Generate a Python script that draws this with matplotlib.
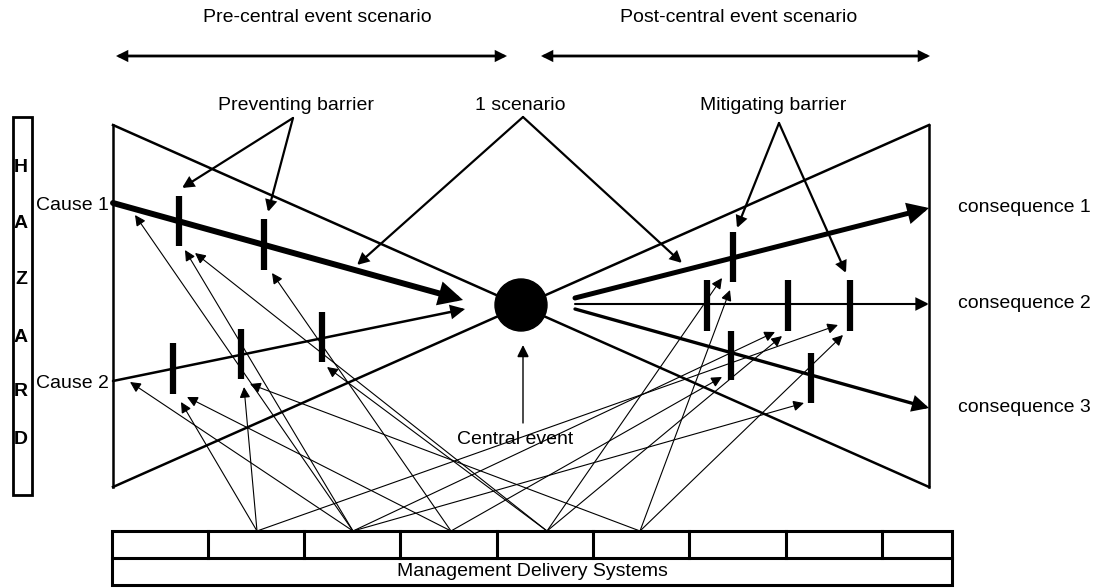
import matplotlib
matplotlib.use('Agg')

import matplotlib.pyplot as plt
from matplotlib.patches import FancyArrowPatch, Circle, Rectangle

plt.rcParams['font.family'] = ['Liberation Sans', 'DejaVu Sans']

# diagram nodes (pixel coordinates, y down)
hazard_letters = ['H', 'A', 'Z', 'A', 'R', 'D']
hazard_y = [167, 223, 280, 337, 392, 440]

cause_labels = ['Cause 1', 'Cause 2']
cause_start = [(113, 203), (113, 381)]
cause_end = [(463, 300), (465, 309)]
cause_lw = [4.3, 1.8]

cons_labels = ['consequence 1', 'consequence 2', 'consequence 3']
cons_start = [(575, 298), (575, 304), (575, 309)]
cons_end = [(929, 208), (929, 304), (929, 408)]
cons_lw = [3.6, 1.5, 2.4]

# barriers: x, top, bottom
prevent_barriers = [(179, 196, 246), (264, 219, 270), (173, 343, 394),
                    (241, 329, 379), (322, 312, 362)]
mitigate_barriers = [(733, 232, 282), (707, 280, 331), (788, 280, 331),
                     (850, 280, 331), (731, 331, 380), (811, 353, 403)]

# management system cells
mds_x = [112, 208, 304, 400, 497, 593, 689, 786, 882, 952]
mds_label = 'Management Delivery Systems'

# links from management systems to barriers (source index, tip)
source_x = [257, 353, 451, 547, 640]
links = [
    (0, (181, 402)), (0, (244, 387)), (0, (838, 325)),
    (1, (135, 215)), (1, (185, 250)), (1, (130, 382)), (1, (775, 332)), (1, (804, 403)),
    (2, (272, 273)), (2, (187, 397)), (2, (722, 377)),
    (3, (195, 253)), (3, (327, 367)), (3, (722, 278)), (3, (782, 336)),
    (4, (250, 384)), (4, (730, 290)), (4, (843, 335)),
]

callouts = [
    ('Preventing barrier', (296, 105), (293, 118), [(182, 188), (268, 212)]),
    ('1 scenario', (520, 105), (523, 117), [(357, 265), (682, 263)]),
    ('Mitigating barrier', (773, 105), (779, 123), [(737, 228), (846, 273)]),
]

fig = plt.figure(figsize=(11.04, 5.88), dpi=100)
ax = fig.add_axes([0, 0, 1, 1])
ax.set_xlim(0, 1104)
ax.set_ylim(588, 0)
ax.axis('off')


def arrow(p0, p1, lw=0.8, ms=16, style='-|>'):
    a = FancyArrowPatch(p0, p1, arrowstyle=style, mutation_scale=ms, lw=lw,
                        color='black', shrinkA=0, shrinkB=0, joinstyle='miter')
    ax.add_patch(a)


# top scenario arrows
ax.text(317, 18, 'Pre-central event scenario', ha='center', va='center', fontsize=14)
ax.text(739, 18, 'Post-central event scenario', ha='center', va='center', fontsize=14)
arrow((116, 56), (507, 56), lw=2, ms=14, style='<|-|>')
arrow((541, 56), (930, 56), lw=2, ms=14, style='<|-|>')

# hazard box
ax.add_patch(Rectangle((12.5, 117), 19.5, 378, fill=False, lw=2))
for letter, y in zip(hazard_letters, hazard_y):
    ax.text(21, y, letter, ha='center', va='center', fontsize=14, fontweight='bold')

# bow tie outline
ax.plot([113, 929], [125, 487], color='black', lw=1.8)
ax.plot([113, 929], [487, 125], color='black', lw=1.8)
ax.plot([113, 113], [125, 487], color='black', lw=1.8)
ax.plot([929, 929], [125, 487], color='black', lw=1.8)
ax.add_patch(Circle((521, 305), 26, color='black', zorder=3))

# cause and consequence scenarios
for lab, p0, p1, w in zip(cause_labels, cause_start, cause_end, cause_lw):
    arrow(p0, p1, lw=w, ms=14 + 3 * w)
    ax.text(109, p0[1] + 2, lab, ha='right', va='center', fontsize=14)
for lab, p0, p1, w in zip(cons_labels, cons_start, cons_end, cons_lw):
    arrow(p0, p1, lw=w, ms=14 + 3 * w)
    ax.text(958, p1[1], lab, ha='left', va='center', fontsize=14)

# barriers
for x, y0, y1 in prevent_barriers + mitigate_barriers:
    ax.plot([x, x], [y0, y1], color='black', lw=4.5, solid_capstyle='butt')

# callouts
for lab, txy, apex, tips in callouts:
    ax.text(txy[0], txy[1], lab, ha='center', va='center', fontsize=14)
    for t in tips:
        arrow(apex, t, lw=1.6, ms=16)

# central event
arrow((523, 423), (523, 345), lw=1, ms=18)
ax.text(515, 439, 'Central event', ha='center', va='center', fontsize=14)

# management delivery systems
ax.add_patch(Rectangle((mds_x[0], 531), mds_x[-1] - mds_x[0], 54, fill=False, lw=2.2))
ax.plot([mds_x[0], mds_x[-1]], [558, 558], color='black', lw=2.2)
for x in mds_x[1:-1]:
    ax.plot([x, x], [531, 558], color='black', lw=2.2)
ax.text((mds_x[0] + mds_x[-1]) / 2, 571, mds_label, ha='center', va='center', fontsize=14)

for si, tip in links:
    arrow((source_x[si], 531), tip, lw=0.8, ms=16)

fig.savefig('out.png', dpi=100, facecolor='white')
